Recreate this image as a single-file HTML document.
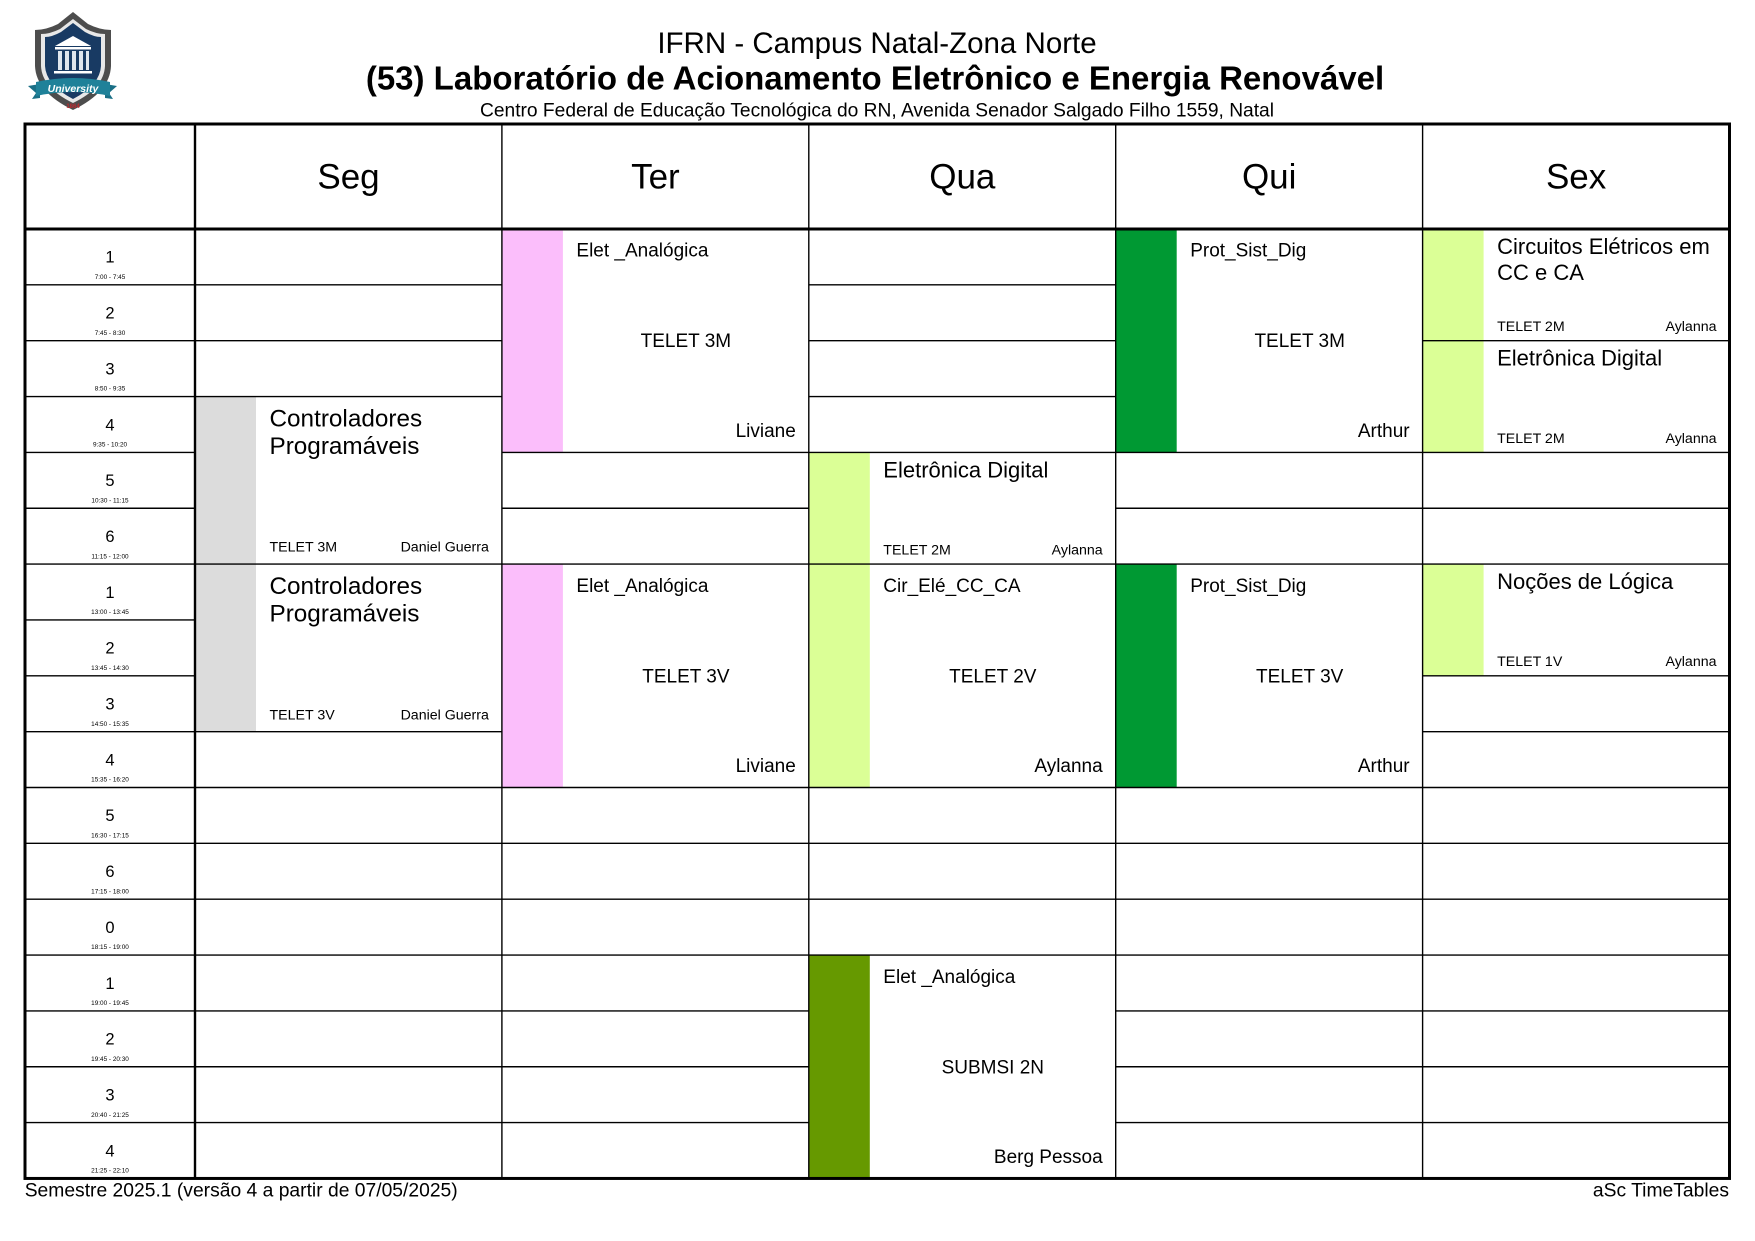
<!DOCTYPE html>
<html><head><meta charset="utf-8"><style>
html,body{margin:0;padding:0;background:#fff;width:1755px;height:1241px;overflow:hidden}
svg{display:block}
text{font-family:"Liberation Sans",Arial,sans-serif;fill:#000}
</style></head><body>
<svg width="1755" height="1241" viewBox="0 0 1755 1241" xmlns="http://www.w3.org/2000/svg">
<rect x="0" y="0" width="1755" height="1241" fill="#fff"/>
<!-- Logo -->
<g>
<path d="M73,12 L88,24 Q100,30 111,30 L111,66 Q110,92 73,110 Q36,92 35,66 L35,30 Q46,30 58,24 Z" fill="#4d4d4d"/>
<path d="M73,19 L86,29 Q96,34 105,34 L105,66 Q104,88 73,103 Q42,88 41,66 L41,34 Q50,34 60,29 Z" fill="#e8e8e8"/>
<path d="M73,23 L85,32 Q94,37 101,37 L101,66 Q100,85 73,99 Q46,85 45,66 L45,37 Q52,37 61,32 Z" fill="#183a63"/>
<path d="M55,46 L73,36 L91,46 Z" fill="#fff"/>
<rect x="55" y="47" width="36" height="2.5" fill="#fff"/>
<rect x="58" y="51" width="4" height="19" fill="#dfe6ee"/>
<rect x="65" y="51" width="4" height="19" fill="#dfe6ee"/>
<rect x="72" y="51" width="4" height="19" fill="#dfe6ee"/>
<rect x="79" y="51" width="4" height="19" fill="#dfe6ee"/>
<rect x="86" y="51" width="3" height="19" fill="#dfe6ee"/>
<rect x="54" y="71" width="38" height="2.5" fill="#fff"/>
<path d="M28,86 L40,84 L40,98 L32,99 L36,93 Z" fill="#1a6f86"/>
<path d="M117,86 L105,84 L105,98 L113,99 L109,93 Z" fill="#1a6f86"/>
<path d="M36,82 Q73,74 110,82 L110,96 Q73,88 36,96 Z" fill="#1f8199"/>
<text x="73" y="92" text-anchor="middle" font-size="10.5" font-weight="bold" font-style="italic" style="fill:#fff">University</text>
<text x="73" y="108" text-anchor="middle" font-size="6" font-weight="bold" style="fill:#c0282d">1864</text>
</g>
<!-- Titles -->
<text x="877" y="53" text-anchor="middle" font-size="29.5">IFRN - Campus Natal-Zona Norte</text>
<text x="875" y="89.5" text-anchor="middle" font-size="33" font-weight="bold">(53) Laboratório de Acionamento Eletrônico e Energia Renovável</text>
<text x="877" y="116.5" text-anchor="middle" font-size="19.2">Centro Federal de Educação Tecnológica do RN, Avenida Senador Salgado Filho 1559, Natal</text>

<!-- Block bars -->
<g>
<rect x="195" y="396.55" width="61" height="167.55" fill="#dcdcdc"/>
<rect x="195" y="564.1" width="61" height="167.55" fill="#dcdcdc"/>
<rect x="501.9" y="229" width="61" height="223.4" fill="#fbbefb"/>
<rect x="501.9" y="564.1" width="61" height="223.4" fill="#fbbefb"/>
<rect x="808.8" y="452.4" width="61" height="111.7" fill="#dbff96"/>
<rect x="808.8" y="564.1" width="61" height="223.4" fill="#dbff96"/>
<rect x="808.8" y="955.05" width="61" height="223.4" fill="#669900"/>
<rect x="1115.7" y="229" width="61" height="223.4" fill="#009933"/>
<rect x="1115.7" y="564.1" width="61" height="223.4" fill="#009933"/>
<rect x="1422.6" y="229" width="61" height="111.7" fill="#dbff96"/>
<rect x="1422.6" y="340.7" width="61" height="111.7" fill="#dbff96"/>
<rect x="1422.6" y="564.1" width="61" height="111.7" fill="#dbff96"/>
</g>

<!-- Horizontal thin lines -->
<g stroke="#000" stroke-width="1.4">
<line x1="25" x2="195" y1="284.85" y2="284.85"/>
<line x1="25" x2="195" y1="340.7" y2="340.7"/>
<line x1="25" x2="195" y1="396.55" y2="396.55"/>
<line x1="25" x2="195" y1="452.4" y2="452.4"/>
<line x1="25" x2="195" y1="508.25" y2="508.25"/>
<line x1="25" x2="195" y1="564.1" y2="564.1"/>
<line x1="25" x2="195" y1="619.95" y2="619.95"/>
<line x1="25" x2="195" y1="675.8" y2="675.8"/>
<line x1="25" x2="195" y1="731.65" y2="731.65"/>
<line x1="25" x2="195" y1="787.5" y2="787.5"/>
<line x1="25" x2="195" y1="843.35" y2="843.35"/>
<line x1="25" x2="195" y1="899.2" y2="899.2"/>
<line x1="25" x2="195" y1="955.05" y2="955.05"/>
<line x1="25" x2="195" y1="1010.9" y2="1010.9"/>
<line x1="25" x2="195" y1="1066.75" y2="1066.75"/>
<line x1="25" x2="195" y1="1122.6" y2="1122.6"/>
<line x1="195" x2="501.9" y1="284.85" y2="284.85"/>
<line x1="195" x2="501.9" y1="340.7" y2="340.7"/>
<line x1="195" x2="501.9" y1="396.55" y2="396.55"/>
<line x1="195" x2="501.9" y1="564.1" y2="564.1"/>
<line x1="195" x2="501.9" y1="731.65" y2="731.65"/>
<line x1="195" x2="501.9" y1="787.5" y2="787.5"/>
<line x1="195" x2="501.9" y1="843.35" y2="843.35"/>
<line x1="195" x2="501.9" y1="899.2" y2="899.2"/>
<line x1="195" x2="501.9" y1="955.05" y2="955.05"/>
<line x1="195" x2="501.9" y1="1010.9" y2="1010.9"/>
<line x1="195" x2="501.9" y1="1066.75" y2="1066.75"/>
<line x1="195" x2="501.9" y1="1122.6" y2="1122.6"/>
<line x1="501.9" x2="808.8" y1="452.4" y2="452.4"/>
<line x1="501.9" x2="808.8" y1="508.25" y2="508.25"/>
<line x1="501.9" x2="808.8" y1="564.1" y2="564.1"/>
<line x1="501.9" x2="808.8" y1="787.5" y2="787.5"/>
<line x1="501.9" x2="808.8" y1="843.35" y2="843.35"/>
<line x1="501.9" x2="808.8" y1="899.2" y2="899.2"/>
<line x1="501.9" x2="808.8" y1="955.05" y2="955.05"/>
<line x1="501.9" x2="808.8" y1="1010.9" y2="1010.9"/>
<line x1="501.9" x2="808.8" y1="1066.75" y2="1066.75"/>
<line x1="501.9" x2="808.8" y1="1122.6" y2="1122.6"/>
<line x1="808.8" x2="1115.7" y1="284.85" y2="284.85"/>
<line x1="808.8" x2="1115.7" y1="340.7" y2="340.7"/>
<line x1="808.8" x2="1115.7" y1="396.55" y2="396.55"/>
<line x1="808.8" x2="1115.7" y1="452.4" y2="452.4"/>
<line x1="808.8" x2="1115.7" y1="564.1" y2="564.1"/>
<line x1="808.8" x2="1115.7" y1="787.5" y2="787.5"/>
<line x1="808.8" x2="1115.7" y1="843.35" y2="843.35"/>
<line x1="808.8" x2="1115.7" y1="899.2" y2="899.2"/>
<line x1="808.8" x2="1115.7" y1="955.05" y2="955.05"/>
<line x1="1115.7" x2="1422.6" y1="452.4" y2="452.4"/>
<line x1="1115.7" x2="1422.6" y1="508.25" y2="508.25"/>
<line x1="1115.7" x2="1422.6" y1="564.1" y2="564.1"/>
<line x1="1115.7" x2="1422.6" y1="787.5" y2="787.5"/>
<line x1="1115.7" x2="1422.6" y1="843.35" y2="843.35"/>
<line x1="1115.7" x2="1422.6" y1="899.2" y2="899.2"/>
<line x1="1115.7" x2="1422.6" y1="955.05" y2="955.05"/>
<line x1="1115.7" x2="1422.6" y1="1010.9" y2="1010.9"/>
<line x1="1115.7" x2="1422.6" y1="1066.75" y2="1066.75"/>
<line x1="1115.7" x2="1422.6" y1="1122.6" y2="1122.6"/>
<line x1="1422.6" x2="1729.5" y1="340.7" y2="340.7"/>
<line x1="1422.6" x2="1729.5" y1="452.4" y2="452.4"/>
<line x1="1422.6" x2="1729.5" y1="508.25" y2="508.25"/>
<line x1="1422.6" x2="1729.5" y1="564.1" y2="564.1"/>
<line x1="1422.6" x2="1729.5" y1="675.8" y2="675.8"/>
<line x1="1422.6" x2="1729.5" y1="731.65" y2="731.65"/>
<line x1="1422.6" x2="1729.5" y1="787.5" y2="787.5"/>
<line x1="1422.6" x2="1729.5" y1="843.35" y2="843.35"/>
<line x1="1422.6" x2="1729.5" y1="899.2" y2="899.2"/>
<line x1="1422.6" x2="1729.5" y1="955.05" y2="955.05"/>
<line x1="1422.6" x2="1729.5" y1="1010.9" y2="1010.9"/>
<line x1="1422.6" x2="1729.5" y1="1066.75" y2="1066.75"/>
<line x1="1422.6" x2="1729.5" y1="1122.6" y2="1122.6"/>
<line x1="501.9" x2="501.9" y1="124" y2="1178.45"/>
<line x1="808.8" x2="808.8" y1="124" y2="1178.45"/>
<line x1="1115.7" x2="1115.7" y1="124" y2="1178.45"/>
<line x1="1422.6" x2="1422.6" y1="124" y2="1178.45"/>
</g>
<line x1="195" x2="195" y1="124" y2="1178.45" stroke="#000" stroke-width="2.4"/>
<line x1="25" x2="1729.5" y1="229" y2="229" stroke="#000" stroke-width="3"/>
<rect x="25" y="124" width="1704.5" height="1054.45" fill="none" stroke="#000" stroke-width="3"/>

<!-- Header days -->
<g font-size="35" text-anchor="middle">
<text x="348.5" y="188.5">Seg</text>
<text x="655.4" y="188.5">Ter</text>
<text x="962.3" y="188.5">Qua</text>
<text x="1269.2" y="188.5">Qui</text>
<text x="1576.1" y="188.5">Sex</text>
</g>

<!-- Time column -->
<g text-anchor="middle">
<g font-size="16.5">
<text x="110" y="262.7">1</text>
<text x="110" y="318.55">2</text>
<text x="110" y="374.4">3</text>
<text x="110" y="430.25">4</text>
<text x="110" y="486.1">5</text>
<text x="110" y="541.95">6</text>
<text x="110" y="597.8">1</text>
<text x="110" y="653.65">2</text>
<text x="110" y="709.5">3</text>
<text x="110" y="765.35">4</text>
<text x="110" y="821.2">5</text>
<text x="110" y="877.05">6</text>
<text x="110" y="932.9">0</text>
<text x="110" y="988.75">1</text>
<text x="110" y="1044.6">2</text>
<text x="110" y="1100.45">3</text>
<text x="110" y="1156.3">4</text>
</g>
<g font-size="6.4">
<text x="110" y="279">7:00 - 7:45</text>
<text x="110" y="334.85">7:45 - 8:30</text>
<text x="110" y="390.7">8:50 - 9:35</text>
<text x="110" y="446.55">9:35 - 10:20</text>
<text x="110" y="502.4">10:30 - 11:15</text>
<text x="110" y="558.25">11:15 - 12:00</text>
<text x="110" y="614.1">13:00 - 13:45</text>
<text x="110" y="669.95">13:45 - 14:30</text>
<text x="110" y="725.8">14:50 - 15:35</text>
<text x="110" y="781.65">15:35 - 16:20</text>
<text x="110" y="837.5">16:30 - 17:15</text>
<text x="110" y="893.35">17:15 - 18:00</text>
<text x="110" y="949.2">18:15 - 19:00</text>
<text x="110" y="1005.05">19:00 - 19:45</text>
<text x="110" y="1060.9">19:45 - 20:30</text>
<text x="110" y="1116.75">20:40 - 21:25</text>
<text x="110" y="1172.6">21:25 - 22:10</text>
</g>
</g>

<!-- Seg blocks -->
<g font-size="24.3">
<text x="269.5" y="426.55">Controladores</text>
<text x="269.5" y="453.85">Programáveis</text>
<text x="269.5" y="594.1">Controladores</text>
<text x="269.5" y="621.4">Programáveis</text>
</g>
<g font-size="14.2">
<text x="269.5" y="551.7">TELET 3M</text>
<text x="488.9" y="551.7" text-anchor="end">Daniel Guerra</text>
<text x="269.5" y="719.25">TELET 3V</text>
<text x="488.9" y="719.25" text-anchor="end">Daniel Guerra</text>
</g>

<!-- Style A blocks -->
<g font-size="19">
<text x="576.4" y="256.7">Elet _Analógica</text>
<text x="685.9" y="347.2" text-anchor="middle">TELET 3M</text>
<text x="795.8" y="436.8" text-anchor="end">Liviane</text>
<text x="576.4" y="591.8">Elet _Analógica</text>
<text x="685.9" y="682.3" text-anchor="middle">TELET 3V</text>
<text x="795.8" y="771.9" text-anchor="end">Liviane</text>

<text x="883.3" y="591.8">Cir_Elé_CC_CA</text>
<text x="992.8" y="682.3" text-anchor="middle">TELET 2V</text>
<text x="1102.7" y="771.9" text-anchor="end">Aylanna</text>
<text x="883.3" y="982.75">Elet _Analógica</text>
<text x="992.8" y="1073.25" text-anchor="middle">SUBMSI 2N</text>
<text x="1102.7" y="1162.85" text-anchor="end">Berg Pessoa</text>

<text x="1190.2" y="256.7">Prot_Sist_Dig</text>
<text x="1299.7" y="347.2" text-anchor="middle">TELET 3M</text>
<text x="1409.6" y="436.8" text-anchor="end">Arthur</text>
<text x="1190.2" y="591.8">Prot_Sist_Dig</text>
<text x="1299.7" y="682.3" text-anchor="middle">TELET 3V</text>
<text x="1409.6" y="771.9" text-anchor="end">Arthur</text>
</g>

<!-- Style B blocks (22px) -->
<g font-size="22">
<text x="883.3" y="477.4">Eletrônica Digital</text>
<text x="1497.1" y="254">Circuitos Elétricos em</text>
<text x="1497.1" y="280">CC e CA</text>
<text x="1497.1" y="365.7">Eletrônica Digital</text>
<text x="1497.1" y="589.1">Noções de Lógica</text>
</g>
<g font-size="14.2">
<text x="883.3" y="554.6">TELET 2M</text>
<text x="1102.7" y="554.6" text-anchor="end">Aylanna</text>
<text x="1497.1" y="331.2">TELET 2M</text>
<text x="1716.5" y="331.2" text-anchor="end">Aylanna</text>
<text x="1497.1" y="442.9">TELET 2M</text>
<text x="1716.5" y="442.9" text-anchor="end">Aylanna</text>
<text x="1497.1" y="665.8">TELET 1V</text>
<text x="1716.5" y="665.8" text-anchor="end">Aylanna</text>
</g>

<!-- Footer -->
<text x="24.7" y="1196.7" font-size="19.3">Semestre 2025.1 (versão 4 a partir de 07/05/2025)</text>
<text x="1729" y="1196.7" font-size="19.3" text-anchor="end">aSc TimeTables</text>
</svg>
</body></html>
